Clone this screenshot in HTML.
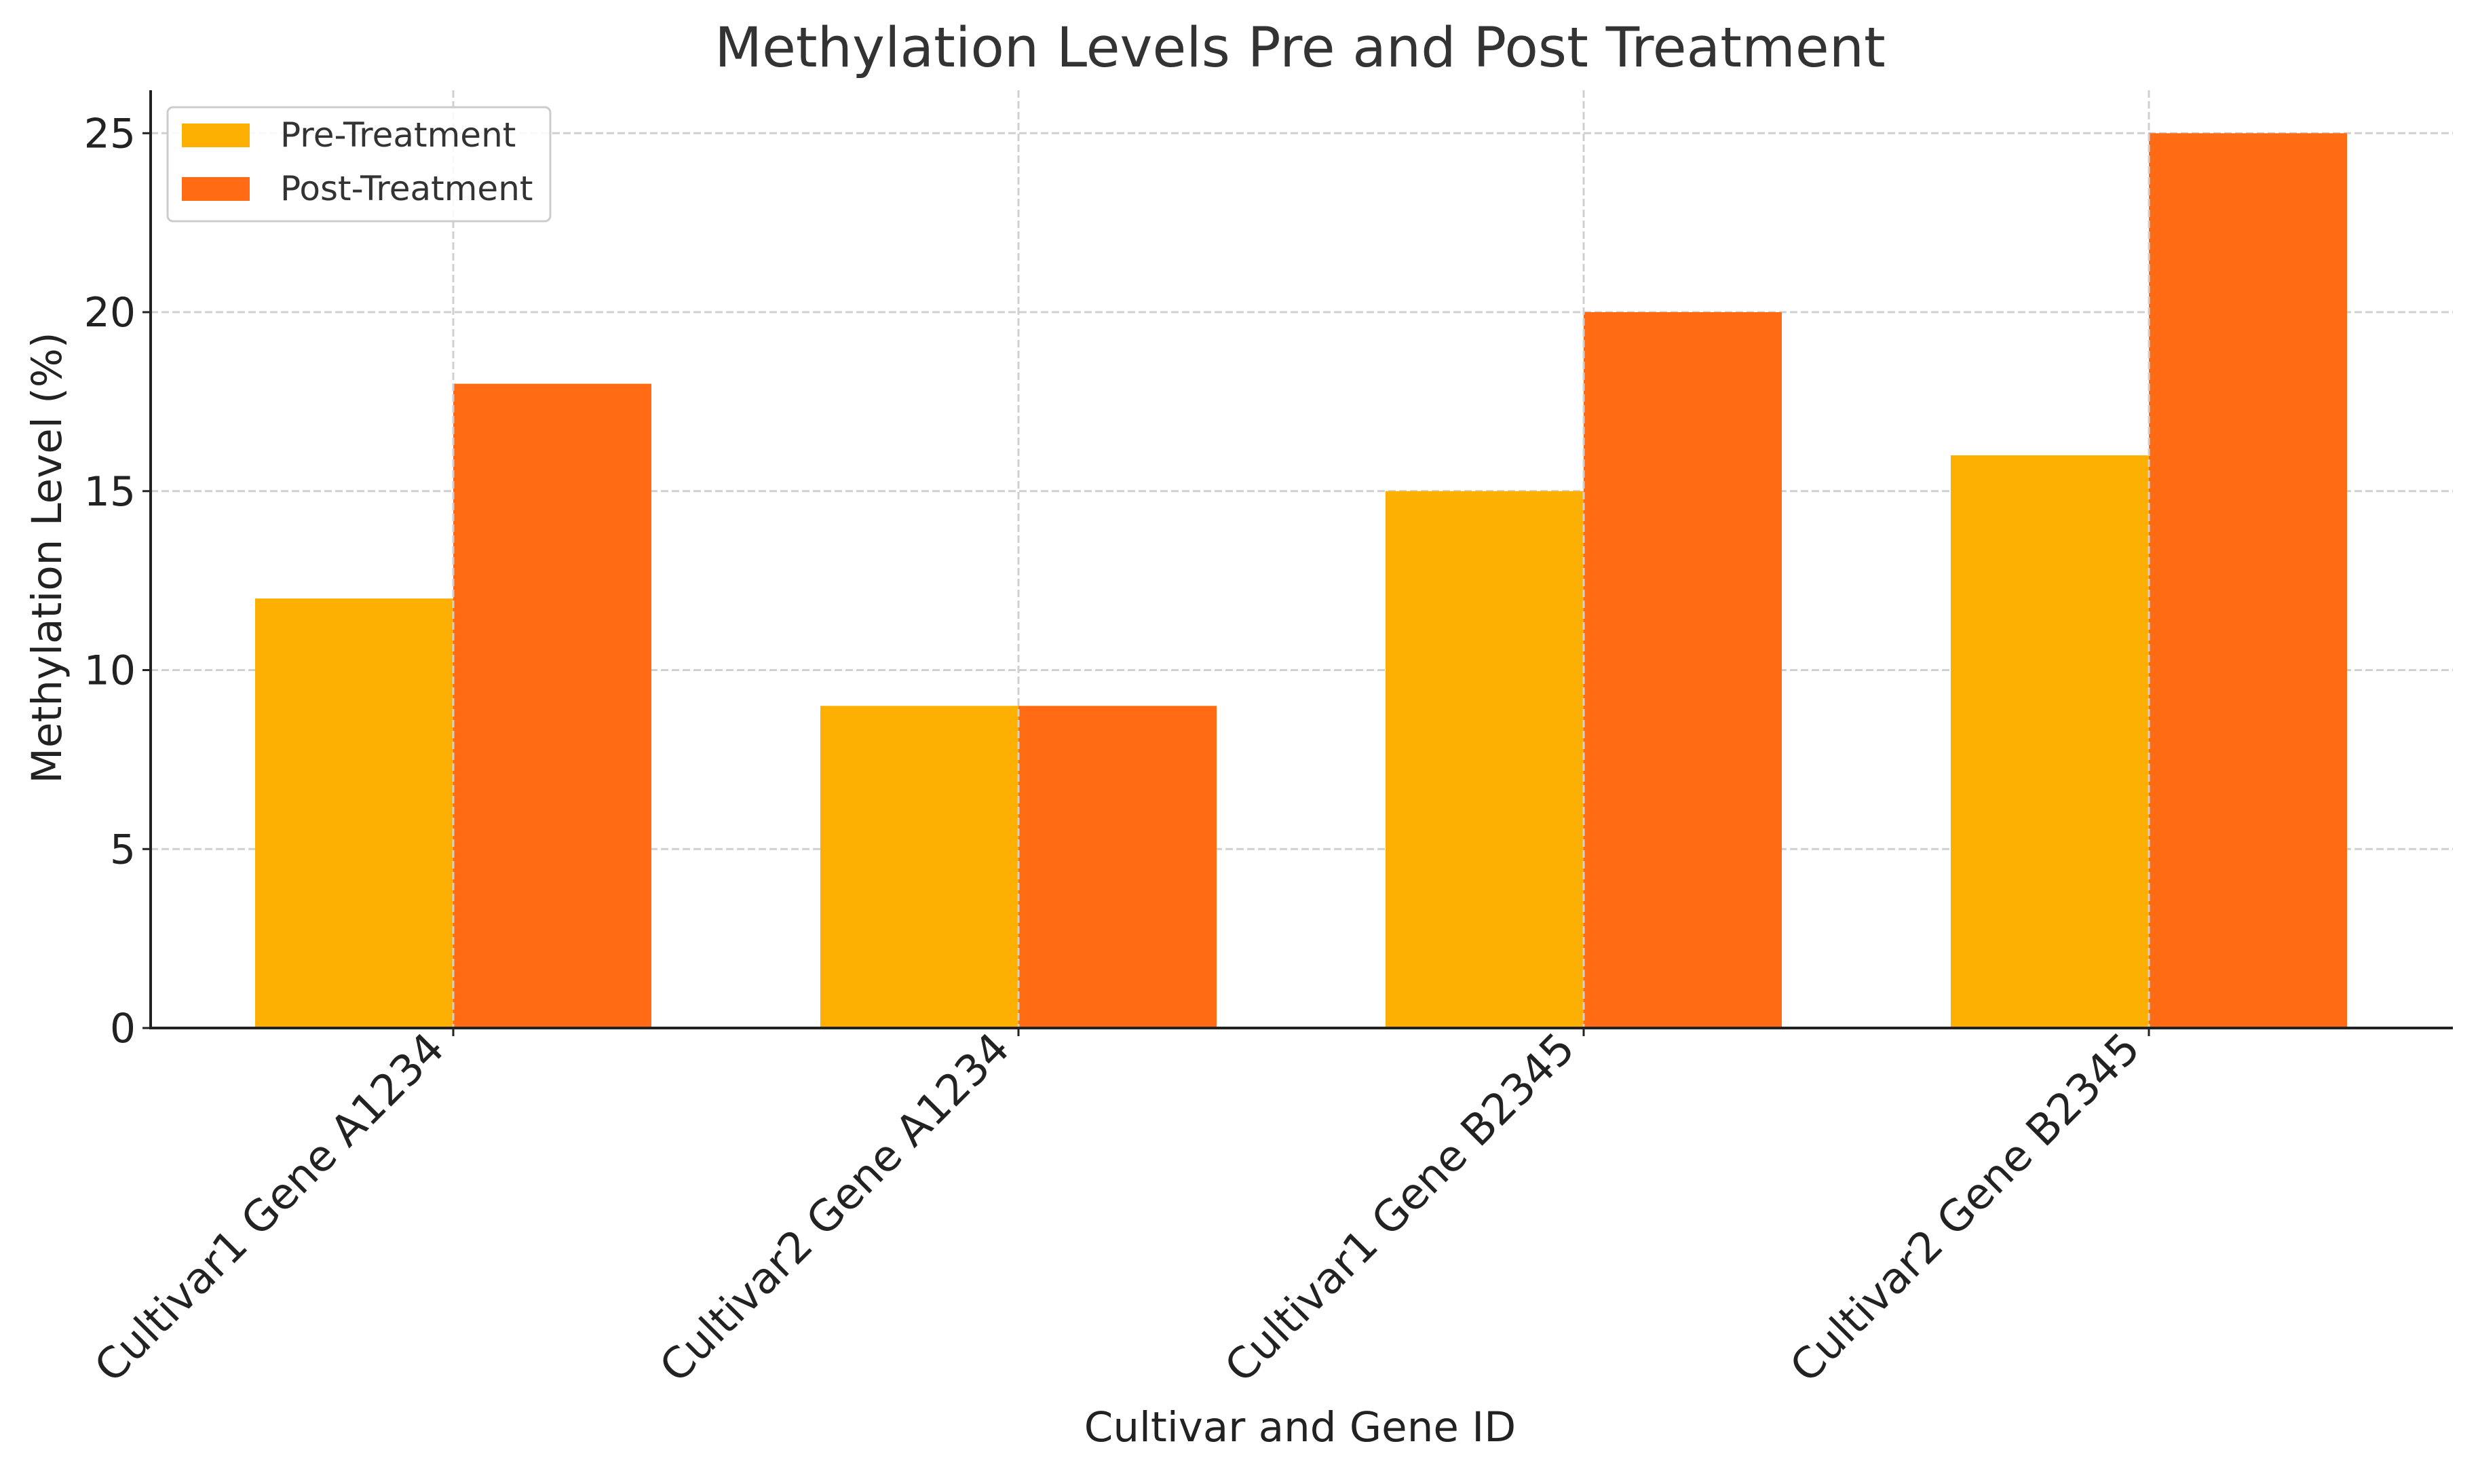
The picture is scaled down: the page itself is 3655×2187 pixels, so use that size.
<!DOCTYPE html>
<html><head><meta charset="utf-8"><style>
html,body{margin:0;padding:0;background:#fff;}
svg{display:block;font-family:"DejaVu Sans","Liberation Sans",sans-serif;}
</style></head><body>
<svg id="chart" width="3655" height="2187" viewBox="0 0 3655 2187">
<text x="1916" y="98" text-anchor="middle" font-size="81" fill="#333">Methylation Levels Pre and Post Treatment</text>
<g id="grid"></g>
<g id="bars"></g>
<g id="axes"></g>
<text x="1916" y="2124" text-anchor="middle" font-size="61" fill="#222">Cultivar and Gene ID</text>
<text transform="translate(90,822) rotate(-90)" text-anchor="middle" font-size="61" fill="#222">Methylation Level (%)</text>
<g>
<rect x="247" y="158" width="564" height="168" rx="8" fill="#fff" fill-opacity="0.85" stroke="#ccc" stroke-width="3"/>
<rect x="268" y="182" width="100" height="35" fill="#FDB002"/>
<text x="413" y="216" font-size="50" fill="#333">Pre-Treatment</text>
<rect x="268" y="261" width="100" height="35" fill="#FF6A13"/>
<text x="413" y="295" font-size="50" fill="#333">Post-Treatment</text>
</g>
</svg>
<script>
const categories = ["Cultivar1 Gene A1234","Cultivar2 Gene A1234","Cultivar1 Gene B2345","Cultivar2 Gene B2345"];
const preValues = [12, 9, 15, 16];
const postValues = [18, 9, 20, 25];
const yTicks = [0, 5, 10, 15, 20, 25];

const NS = "http://www.w3.org/2000/svg";
const plotLeft = 222, plotRight = 3615, plotTop = 133, plotBottom = 1515;
const yMax = 26.2;
const x0 = 668, step = 833, barW = 292;
function xScale(i){ return x0 + i*step; }
function yScale(v){ return plotBottom - v/yMax*(plotBottom-plotTop); }
function mk(tag, attrs, parent){ const e=document.createElementNS(NS,tag); for(const k in attrs) e.setAttribute(k,attrs[k]); parent.appendChild(e); return e; }
const gridG=document.getElementById('grid'), barsG=document.getElementById('bars'), axesG=document.getElementById('axes');

yTicks.forEach(t=>{
  const y=yScale(t);
  if(t>0){ const g=mk('line',{x1:plotLeft,x2:plotRight,y1:y,y2:y,stroke:'#d0d0d0','stroke-width':3,'stroke-dasharray':'11 5'},gridG);
    
     }
  const tk=mk('line',{x1:plotLeft-12,x2:plotLeft,y1:y,y2:y,stroke:'#222','stroke-width':3},axesG);
  
  
  const lb=mk('text',{x:plotLeft-22,y:y+21,'text-anchor':'end','font-size':60,fill:'#222'},axesG);
  lb.textContent=t;
  
  
});
categories.forEach((c,i)=>{
  const cx=xScale(i);
  const pre=mk('rect',{x:cx-barW,y:yScale(preValues[i]),width:barW,height:plotBottom-yScale(preValues[i]),fill:'#FDB002'},barsG);
  
  
  const post=mk('rect',{x:cx,y:yScale(postValues[i]),width:barW,height:plotBottom-yScale(postValues[i]),fill:'#FF6A13'},barsG);
  
  
  const g=mk('line',{x1:cx,x2:cx,y1:plotTop,y2:plotBottom,stroke:'#d0d0d0','stroke-width':3,'stroke-dasharray':'11 5'},barsG);
  
  
  const tk=mk('line',{x1:cx,x2:cx,y1:plotBottom,y2:plotBottom+12,stroke:'#222','stroke-width':3},axesG);
  
  
  const lb=mk('text',{transform:`translate(${cx-10},${plotBottom+34}) rotate(-45)`,'text-anchor':'end','font-size':63,fill:'#222'},axesG);
  lb.textContent=c;
  
  
});
const ya=mk('line',{x1:plotLeft,x2:plotLeft,y1:plotTop,y2:plotBottom+2,stroke:'#222','stroke-width':4},axesG);


const xa=mk('line',{x1:plotLeft-2,x2:plotRight,y1:plotBottom,y2:plotBottom,stroke:'#222','stroke-width':4},axesG);


</script>
</body></html>
